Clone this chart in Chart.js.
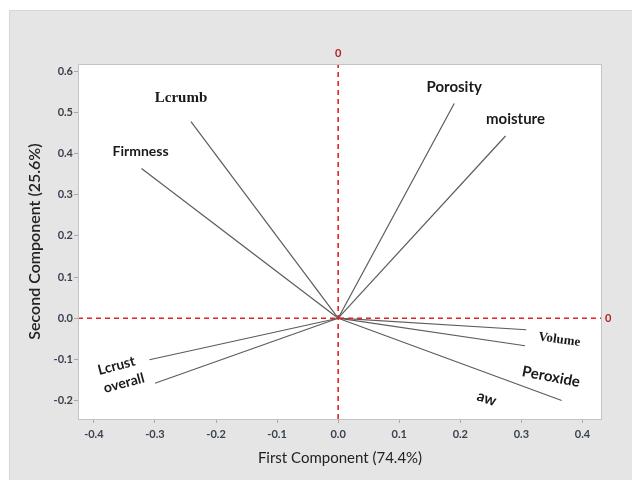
<!DOCTYPE html>
<html><head><meta charset="utf-8">
<script src="https://cdn.jsdelivr.net/npm/chart.js@4"></script>
<style>html,body{margin:0;padding:0;background:#fff}#wrap{width:632px;height:480px}</style>
</head><body><div id="wrap"><canvas id="c" width="632" height="480"></canvas></div>
<script>
// ---- data ----
const variables = ['Lcrumb','Firmness','Porosity','moisture','Volume','Peroxide','aw','Lcrust','overall'];
const pc1 = [-0.241, -0.322, 0.190, 0.274, 0.308, 0.306, 0.366, -0.309, -0.300];
const pc2 = [0.478, 0.364, 0.522, 0.443, -0.028, -0.067, -0.200, -0.101, -0.158];
const xTicks = [-0.4, -0.3, -0.2, -0.1, 0.0, 0.1, 0.2, 0.3, 0.4];
const yTicks = [-0.2, -0.1, 0.0, 0.1, 0.2, 0.3, 0.4, 0.5, 0.6];
const xTitle = 'First Component (74.4%)';
const yTitle = 'Second Component (25.6%)';
const xRange = [-0.426, 0.432];
const yRange = [-0.245, 0.618];

// ---- label layout (pixel offsets from vector tip, rotation, font) ----
const SANS = 'Lato, "Open Sans", sans-serif';
const SERIF = '"Liberation Serif", "DejaVu Serif", serif';
const labelLayout = {
  Lcrumb:   {dx: -10, dy: -23, rot: 0,   font: 'bold 15px ' + SERIF},
  Firmness: {dx: -1,  dy: -17, rot: 0,   font: 'bold 14px ' + SANS},
  Porosity: {dx: 0,   dy: -16, rot: 0,   font: 'bold 15px ' + SANS},
  moisture: {dx: 10,  dy: -17, rot: 0,   font: 'bold 15px ' + SANS},
  Volume:   {dx: 33,  dy: 10,  rot: 8,   font: 'bold 13px ' + SERIF},
  Peroxide: {dx: 26,  dy: 31,  rot: 11,  font: 'bold 15px ' + SANS},
  aw:       {dx: -75, dy: -2,  rot: 18,  font: 'bold 15px ' + SANS},
  Lcrust:   {dx: -33, dy: 6,   rot: -15, font: 'bold 14px ' + SANS},
  overall:  {dx: -31, dy: 0,   rot: -15, font: 'bold 14px ' + SANS}
};

const vectorSets = variables.map((name, i) => ({
  label: name,
  data: [{x: 0, y: 0}, {x: pc1[i], y: pc2[i]}],
  showLine: true,
  borderColor: '#5c5c5c',
  borderWidth: 1.2,
  pointRadius: 0,
  fill: false
}));
const refSets = [
  {label: 'ref-v', data: [{x: 0, y: yRange[0]}, {x: 0, y: yRange[1]}]},
  {label: 'ref-h', data: [{x: xRange[0], y: 0}, {x: xRange[1], y: 0}]}
].map(d => Object.assign(d, {showLine: true, borderColor: '#e02424', borderWidth: 1.6, borderDash: [5, 4], pointRadius: 0, fill: false}));

const decor = {
  id: 'decor',
  beforeDraw(chart) {
    const ctx = chart.ctx, a = chart.chartArea;
    ctx.save();
    ctx.fillStyle = '#ffffff';
    ctx.fillRect(0, 0, chart.width, chart.height);
    ctx.fillStyle = '#e5e5e5';
    ctx.fillRect(9, 10, chart.width - 9, chart.height - 10);
    ctx.strokeStyle = '#d6d6d6';
    ctx.lineWidth = 1;
    ctx.strokeRect(9.5, 10.5, chart.width, chart.height);
    ctx.fillStyle = '#ffffff';
    ctx.fillRect(a.left, a.top, a.right - a.left, a.bottom - a.top);
    ctx.restore();
  },
  afterDraw(chart) {
    const ctx = chart.ctx, a = chart.chartArea;
    const xs = chart.scales.x, ys = chart.scales.y;
    ctx.save();
    ctx.strokeStyle = '#c4c4c4';
    ctx.lineWidth = 1;
    ctx.strokeRect(a.left + 0.5, a.top + 0.5, a.right - a.left - 1, a.bottom - a.top);
    // reference line labels
    ctx.fillStyle = '#b22222';
    ctx.font = 'bold 11px ' + SANS;
    ctx.textAlign = 'center';
    ctx.textBaseline = 'middle';
    ctx.fillText('0', xs.getPixelForValue(0), a.top - 11);
    ctx.textAlign = 'left';
    ctx.fillText('0', a.right + 3, ys.getPixelForValue(0));
    // variable labels
    ctx.fillStyle = '#1a1a1a';
    ctx.textAlign = 'center';
    variables.forEach((name, i) => {
      const L = labelLayout[name];
      const px = xs.getPixelForValue(pc1[i]) + L.dx;
      const py = ys.getPixelForValue(pc2[i]) + L.dy;
      ctx.save();
      ctx.translate(px, py);
      ctx.rotate(L.rot * Math.PI / 180);
      ctx.font = L.font;
      ctx.fillText(name, 0, 0);
      ctx.restore();
    });
    ctx.restore();
  }
};

const tickFont = {family: SANS, size: 11, weight: 'bold'};
new Chart(document.getElementById('c'), {
  type: 'scatter',
  data: {datasets: refSets.concat(vectorSets)},
  plugins: [decor],
  options: {
    responsive: false,
    animation: false,
    devicePixelRatio: 1,
    layout: {padding: {left: 0, top: 64, right: 30, bottom: 0}},
    plugins: {legend: {display: false}, tooltip: {enabled: false}},
    scales: {
      x: {
        type: 'linear', min: xRange[0], max: xRange[1],
        afterBuildTicks: s => { s.ticks = xTicks.map(v => ({value: v})); },
        afterFit: s => { s.height = 61; },
        ticks: {padding: 5, color: '#3a4250', font: tickFont, callback: v => v.toFixed(1)},
        grid: {display: true, drawOnChartArea: false, drawTicks: true, tickLength: 4, color: '#a8a8a8'},
        border: {display: false},
        title: {display: true, text: xTitle, color: '#222', font: {family: SANS, size: 15}, padding: {top: 0, bottom: 13}}
      },
      y: {
        type: 'linear', min: yRange[0], max: yRange[1],
        afterBuildTicks: s => { s.ticks = yTicks.map(v => ({value: v})); },
        afterFit: s => { s.width = 78; },
        ticks: {padding: 1, color: '#3a4250', font: tickFont, callback: v => v.toFixed(1)},
        grid: {display: true, drawOnChartArea: false, drawTicks: true, tickLength: 4, color: '#a8a8a8'},
        border: {display: false},
        title: {display: true, text: yTitle, color: '#222', font: {family: SANS, size: 16, weight: '600'}, padding: {top: 25, bottom: 0}}
      }
    }
  }
});
</script>
</body></html>
